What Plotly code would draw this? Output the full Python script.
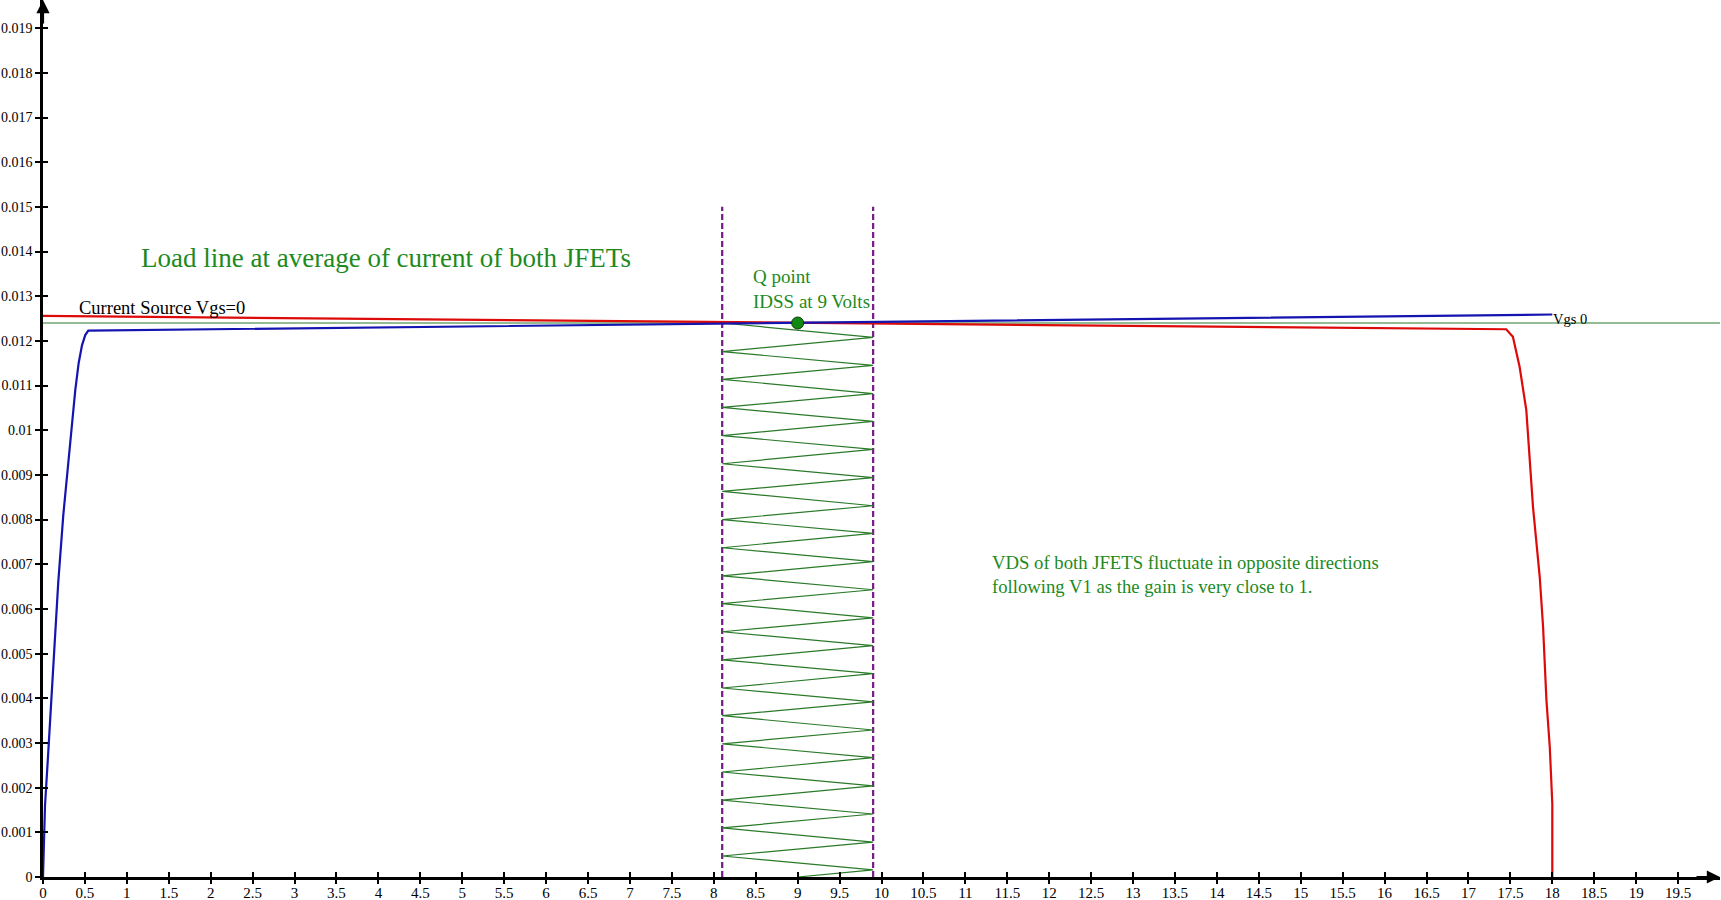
import plotly.graph_objects as go

# ---------------- data ----------------
load_x = [0, 20]
load_y = [0.0124, 0.0124]

red_x = [0, 17.45, 17.53, 17.61, 17.69, 17.77, 17.85, 17.89, 17.93, 17.97, 18.0, 18.0]
red_y = [0.01256, 0.01226, 0.01209, 0.01142, 0.01045, 0.00828, 0.00672, 0.0056,
         0.00396, 0.00291, 0.00164, 0.0]

blue_x = [0, 0.024, 0.063, 0.123, 0.182, 0.242, 0.302, 0.333, 0.385, 0.425, 0.465, 0.504, 0.54, 18.0]
blue_y = [0.0, 0.0016, 0.0028, 0.0047, 0.0066, 0.0081, 0.0093, 0.0100, 0.0109, 0.0115,
          0.0119, 0.01213, 0.01223, 0.01259]

zz_x = [8.1, 9.9, 8.1, 9.9, 8.1, 9.9, 8.1, 9.9, 8.1, 9.9, 8.1,
        9.9, 8.1, 9.9, 8.1, 9.9, 8.1, 9.9, 8.1, 9.9, 8.1,
        9.9, 8.1, 9.9, 8.1, 9.9, 8.1, 9.9, 8.1, 9.9, 8.1,
        9.9, 8.1, 9.9, 8.1, 9.9, 8.1, 9.9, 8.1, 9.9, 9.0]
zz_y = [0.01240, 0.01208, 0.01176, 0.01145, 0.01114, 0.01082, 0.01051, 0.01020,
        0.00988, 0.00957, 0.00925, 0.00894, 0.00863, 0.00831, 0.00800, 0.00769,
        0.00737, 0.00706, 0.00674, 0.00643, 0.00612, 0.00580, 0.00549, 0.00518,
        0.00486, 0.00455, 0.00423, 0.00392, 0.00361, 0.00329, 0.00298, 0.00267,
        0.00235, 0.00204, 0.00172, 0.00141, 0.00110, 0.00078, 0.00047, 0.00016, 0.0]

swing_x = [8.1, 9.9]          # dashed limits of the swing
swing_y = [0.0, 0.015]

q_x = [9.0]
q_y = [0.0124]

x_tickvals = [0, 0.5, 1, 1.5, 2, 2.5, 3, 3.5, 4, 4.5, 5, 5.5, 6, 6.5, 7, 7.5, 8, 8.5, 9, 9.5,
              10, 10.5, 11, 11.5, 12, 12.5, 13, 13.5, 14, 14.5, 15, 15.5, 16, 16.5, 17, 17.5,
              18, 18.5, 19, 19.5]
x_ticktext = ["0", "0.5", "1", "1.5", "2", "2.5", "3", "3.5", "4", "4.5", "5", "5.5", "6", "6.5",
              "7", "7.5", "8", "8.5", "9", "9.5", "10", "10.5", "11", "11.5", "12", "12.5", "13",
              "13.5", "14", "14.5", "15", "15.5", "16", "16.5", "17", "17.5", "18", "18.5", "19",
              "19.5"]
y_tickvals = [0, 0.001, 0.002, 0.003, 0.004, 0.005, 0.006, 0.007, 0.008, 0.009, 0.01,
              0.011, 0.012, 0.013, 0.014, 0.015, 0.016, 0.017, 0.018, 0.019]
y_ticktext = ["0", "0.001", "0.002", "0.003", "0.004", "0.005", "0.006", "0.007", "0.008",
              "0.009", "0.01", "0.011", "0.012", "0.013", "0.014", "0.015", "0.016", "0.017",
              "0.018", "0.019"]

X_RANGE = [0, 20]
Y_RANGE = [0, 0.01963]

FONT = "Liberation Serif"
GREEN_TXT = "#1d8a1d"

fig = go.Figure()

fig.add_trace(go.Scatter(x=load_x, y=load_y, mode="lines",
                         line=dict(color="#2a7a2a", width=1.2), hoverinfo="skip"))
for xv in swing_x:
    fig.add_trace(go.Scatter(x=[xv, xv], y=swing_y, mode="lines",
                             line=dict(color="#7a1f8a", width=2.3, dash="6px,3px"),
                             hoverinfo="skip"))
fig.add_trace(go.Scatter(x=zz_x, y=zz_y, mode="lines",
                         line=dict(color="#2a7a2a", width=1.2), hoverinfo="skip"))
fig.add_trace(go.Scatter(x=red_x, y=red_y, mode="lines",
                         line=dict(color="#dd0a0a", width=2.2), hoverinfo="skip"))
fig.add_trace(go.Scatter(x=blue_x, y=blue_y, mode="lines",
                         line=dict(color="#1414b0", width=2.2), hoverinfo="skip"))
fig.add_trace(go.Scatter(x=q_x, y=q_y, mode="markers",
                         marker=dict(color="#108a10", size=12,
                                     line=dict(color="#0a3a0a", width=1)),
                         hoverinfo="skip"))
# invisible trace on overlay axes (for the other half of the tick marks)
fig.add_trace(go.Scatter(x=[0], y=[0], mode="markers", xaxis="x2", yaxis="y2",
                         marker=dict(opacity=0), hoverinfo="skip"))

x_font = dict(family=FONT, size=15, color="black")
y_font = dict(family=FONT, size=14, color="black")

fig.update_layout(
    width=1721, height=900,
    margin=dict(l=43, r=1, t=0, b=23, autoexpand=False),
    paper_bgcolor="white", plot_bgcolor="white",
    showlegend=False,
    font=dict(family=FONT),
    xaxis=dict(range=X_RANGE, tickvals=x_tickvals, ticktext=x_ticktext, automargin=False,
               showgrid=False, zeroline=False, showline=True, linecolor="black",
               linewidth=2.5, ticks="inside", ticklen=5, tickwidth=1.5,
               tickcolor="black", tickfont=x_font, fixedrange=True),
    yaxis=dict(range=Y_RANGE, tickvals=y_tickvals, ticktext=y_ticktext, automargin=False,
               showgrid=False, zeroline=False, showline=True, linecolor="black",
               linewidth=2.5, ticks="outside", ticklen=5, tickwidth=1.5,
               tickcolor="black", tickfont=y_font, fixedrange=True),
    xaxis2=dict(range=X_RANGE, tickvals=x_tickvals, overlaying="x", anchor="y",
                showticklabels=False, showgrid=False, zeroline=False, showline=False,
                automargin=False,
                ticks="outside", ticklen=6, tickwidth=1.5, tickcolor="black"),
    yaxis2=dict(range=Y_RANGE, tickvals=y_tickvals, overlaying="y", anchor="x",
                showticklabels=False, showgrid=False, zeroline=False, showline=False,
                automargin=False,
                ticks="inside", ticklen=5, tickwidth=1.5, tickcolor="black"),
)

# axis arrow heads
fig.add_annotation(x=20, y=0, xref="x", yref="y", ax=-25, ay=0, text="",
                   showarrow=True, arrowhead=2, arrowsize=1.2, arrowwidth=2.2,
                   arrowcolor="black", standoff=0)
fig.add_annotation(x=0, y=Y_RANGE[1], xref="x", yref="y", ax=0, ay=25, text="",
                   showarrow=True, arrowhead=2, arrowsize=1.2, arrowwidth=2.2,
                   arrowcolor="black", standoff=0)

# texts
fig.add_annotation(x=1.15, y=0.01385, xref="x", yref="y", xanchor="left", yanchor="middle",
                   text="Load line at average of current of both JFETs", showarrow=False,
                   font=dict(family=FONT, size=27, color=GREEN_TXT))
fig.add_annotation(x=0.40, y=0.01273, xref="x", yref="y", xanchor="left", yanchor="middle",
                   text="Current Source Vgs=0", showarrow=False,
                   font=dict(family=FONT, size=18.5, color="black"))
fig.add_annotation(x=8.44, y=0.01316, xref="x", yref="y", xanchor="left", yanchor="middle",
                   text="Q point<br>IDSS at 9 Volts", showarrow=False, align="left",
                   font=dict(family=FONT, size=19, color=GREEN_TXT))
fig.add_annotation(x=11.29, y=0.00678, xref="x", yref="y", xanchor="left", yanchor="middle",
                   text="VDS of both JFETS fluctuate in opposite directions<br>"
                        "following V1 as the gain is very close to 1.",
                   showarrow=False, align="left",
                   font=dict(family=FONT, size=18.7, color=GREEN_TXT))
fig.add_annotation(x=17.99, y=0.01248, xref="x", yref="y", xanchor="left", yanchor="middle",
                   text="Vgs 0", showarrow=False,
                   font=dict(family=FONT, size=14.5, color="black"))

fig.write_html("out.html",
               config={"displayModeBar": False},
               post_script="document.body.style.margin='0px';"
                           "document.body.style.overflow='hidden';")
